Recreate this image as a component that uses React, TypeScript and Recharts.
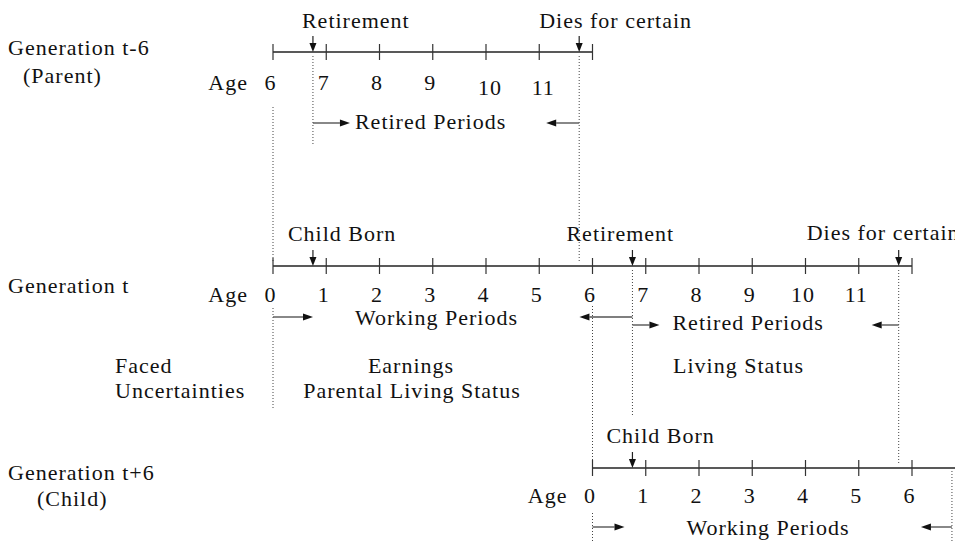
import { ComposedChart, Scatter, XAxis, YAxis, ReferenceLine } from 'recharts';

// ---- data ----
const generations = ['Generation t-6', 'Generation t', 'Generation t+6'];
const roles = ['(Parent)', '', '(Child)'];
// period in which each generation is born, relative to generation t
const birthPeriod = [-6, 0, 6];
const lifeSpan = [
  [6, 12],
  [0, 12],
  [0, 13],
];
const ageLabels = [
  [6, 7, 8, 9, 10, 11],
  [0, 1, 2, 3, 4, 5, 6, 7, 8, 9, 10, 11],
  [0, 1, 2, 3, 4, 5, 6],
];
const eventGen = [0, 0, 1, 1, 1, 2];
const eventAge = [6.75, 11.75, 0.75, 6.75, 11.75, 0.75];
const eventName = ['Retirement', 'Dies for certain', 'Child Born', 'Retirement', 'Dies for certain', 'Child Born'];
const spanGen = [0, 1, 1, 2];
const spanFrom = [6.75, 0, 6.75, 0];
const spanTo = [11.75, 6.75, 11.75, 6.75];
const spanName = ['Retired Periods', 'Working Periods', 'Retired Periods', 'Working Periods'];

// ---- layout ----
const W = 955;
const H = 542;
const ORIGIN = 273;
const UNIT = 53.25;
const X_MIN = -ORIGIN / UNIT;
const X_MAX = (W - ORIGIN) / UNIT;
const rowY = [52, 266, 468];
const ageDy = [38, 36, 35];
const eventLabelDx = [-11, -40, -25, -66, -92, -26];
const eventLabelY = [28, 28, 241, 241, 240, 443];
const spanArrowY = [123, 317, 325, 527];
const spanTextY = [129, 325, 330, 535];
const spanTextDx = [42, 82, 40, 94];
const spanArrowLen = [
  [37, 33],
  [40, 53],
  [27, 27],
  [32, 31],
];
const genLabelY = [
  [55, 83],
  [293, 0],
  [480, 506],
];
const roleX = [23, 0, 37];

const u = (gen: number, age: number) => age + birthPeriod[gen];
const px2u = (px: number) => (px - ORIGIN) / UNIT;

const dotted = [
  { gen: 1, age: 0, y1: 107, y2: 262 },
  { gen: 1, age: 0, y1: 308, y2: 410 },
  { gen: 0, age: 6.75, y1: 56, y2: 146 },
  { gen: 0, age: 11.75, y1: 56, y2: 263 },
  { gen: 1, age: 6, y1: 306, y2: 460 },
  { gen: 2, age: 0, y1: 513, y2: 542 },
  { gen: 1, age: 6.75, y1: 270, y2: 415 },
  { gen: 1, age: 11.75, y1: 270, y2: 465 },
  { gen: 2, age: 6.75, y1: 471, y2: 542 },
];

const notes = [
  { text: 'Faced', x: px2u(115), y: 373, anchor: 'start' },
  { text: 'Uncertainties', x: px2u(115), y: 398, anchor: 'start' },
  { text: 'Earnings', x: px2u(411), y: 373, anchor: 'middle' },
  { text: 'Parental Living Status', x: px2u(412), y: 398, anchor: 'middle' },
  { text: 'Living Status', x: px2u(673), y: 373, anchor: 'start' },
];

const FONT = '"Liberation Serif", "Times New Roman", serif';
const txt = { fontFamily: FONT, fontSize: 22, letterSpacing: 1, fill: '#111' };

// ---- derived point sets ----
const tickPts = generations.flatMap((_, g) => {
  const pts = [];
  for (let a = lifeSpan[g][0]; a <= lifeSpan[g][1]; a++) {
    if (u(g, a) <= X_MAX) pts.push({ x: u(g, a), y: rowY[g] });
  }
  return pts;
});

const numPts = ageLabels.flatMap((ages, g) =>
  ages.map((a) => ({
    x: u(g, a),
    y: rowY[g] + ageDy[g] + (g === 0 && a >= 10 ? 5 : 0),
    text: String(a),
    dx: g === 0 && a >= 10 ? 4 : -2.5,
    anchor: 'middle',
  }))
);

const agePts = generations.map((_, g) => ({
  x: u(g, ageLabels[g][0]),
  y: rowY[g] + ageDy[g],
  text: 'Age',
  dx: -25,
  anchor: 'end',
}));

const genPts = generations.flatMap((name, g) => {
  const out = [{ x: px2u(8), y: genLabelY[g][0], text: name, dx: 0, anchor: 'start' }];
  if (roles[g]) out.push({ x: px2u(roleX[g]), y: genLabelY[g][1], text: roles[g], dx: 0, anchor: 'start' });
  return out;
});

const eventArrowPts = eventAge.map((a, i) => ({ x: u(eventGen[i], a), y: rowY[eventGen[i]] }));
const eventTextPts = eventAge.map((a, i) => ({
  x: u(eventGen[i], a),
  y: eventLabelY[i],
  text: eventName[i],
  dx: eventLabelDx[i],
  anchor: 'start',
}));

const spanArrowPts = spanFrom.flatMap((from, i) => [
  { x: u(spanGen[i], from), y: spanArrowY[i], dir: 1, len: spanArrowLen[i][0] },
  { x: u(spanGen[i], spanTo[i]), y: spanArrowY[i], dir: -1, len: spanArrowLen[i][1] },
]);
const spanTextPts = spanFrom.map((from, i) => ({
  x: u(spanGen[i], from),
  y: spanTextY[i],
  text: spanName[i],
  dx: spanTextDx[i],
  anchor: 'start',
}));

const notePts = notes.map((n) => ({ x: n.x, y: n.y, text: n.text, dx: 0, anchor: n.anchor }));

const allText = [...genPts, ...agePts, ...numPts, ...eventTextPts, ...spanTextPts, ...notePts];

// ---- shapes ----
const TickMark = (p: any) => (
  <line x1={p.cx} y1={p.cy - 8} x2={p.cx} y2={p.cy + 8} stroke="#333" strokeWidth={1.2} />
);

const DownArrow = (p: any) => (
  <g>
    <line x1={p.cx} y1={p.cy - 16} x2={p.cx} y2={p.cy - 8} stroke="#222" strokeWidth={1.2} />
    <path d={`M${p.cx},${p.cy} L${p.cx - 3.5},${p.cy - 9} L${p.cx + 3.5},${p.cy - 9} Z`} fill="#111" />
  </g>
);

const SideArrow = (p: any) => {
  const { cx, cy, payload } = p;
  const tip = cx + payload.dir * payload.len;
  const back = tip - payload.dir * 10;
  return (
    <g>
      <line x1={cx} y1={cy} x2={back} y2={cy} stroke="#555" strokeWidth={1.4} />
      <path d={`M${tip},${cy} L${back},${cy - 3.5} L${back},${cy + 3.5} Z`} fill="#111" />
    </g>
  );
};

const Label = (p: any) => (
  <text x={p.cx + p.payload.dx} y={p.cy} textAnchor={p.payload.anchor} {...txt}>
    {p.payload.text}
  </text>
);

export default function App() {
  return (
    <div style={{ width: W, height: H, overflow: 'hidden', background: '#fff' }}>
      <style>{'body{margin:0}'}</style>
      <ComposedChart width={W} height={H} margin={{ top: 0, right: 0, bottom: 0, left: 0 }}>
        <XAxis type="number" dataKey="x" domain={[X_MIN, X_MAX]} allowDataOverflow hide />
        <YAxis type="number" dataKey="y" domain={[0, H]} reversed allowDataOverflow hide />
        {dotted.map((d, i) => (
          <ReferenceLine
            key={`d${i}`}
            segment={[
              { x: u(d.gen, d.age), y: d.y1 },
              { x: u(d.gen, d.age), y: d.y2 },
            ]}
            stroke="#444"
            strokeWidth={1}
            strokeDasharray="1 2"
            ifOverflow="visible"
          />
        ))}
        {generations.map((_, g) => (
          <ReferenceLine
            key={`t${g}`}
            segment={[
              { x: u(g, lifeSpan[g][0]), y: rowY[g] },
              { x: Math.min(u(g, lifeSpan[g][1]), X_MAX), y: rowY[g] },
            ]}
            stroke="#222"
            strokeWidth={1.3}
            ifOverflow="visible"
          />
        ))}
        <Scatter data={tickPts} shape={TickMark} isAnimationActive={false} />
        <Scatter data={eventArrowPts} shape={DownArrow} isAnimationActive={false} />
        <Scatter data={spanArrowPts} shape={SideArrow} isAnimationActive={false} />
        <Scatter data={allText} shape={Label} isAnimationActive={false} />
      </ComposedChart>
    </div>
  );
}
